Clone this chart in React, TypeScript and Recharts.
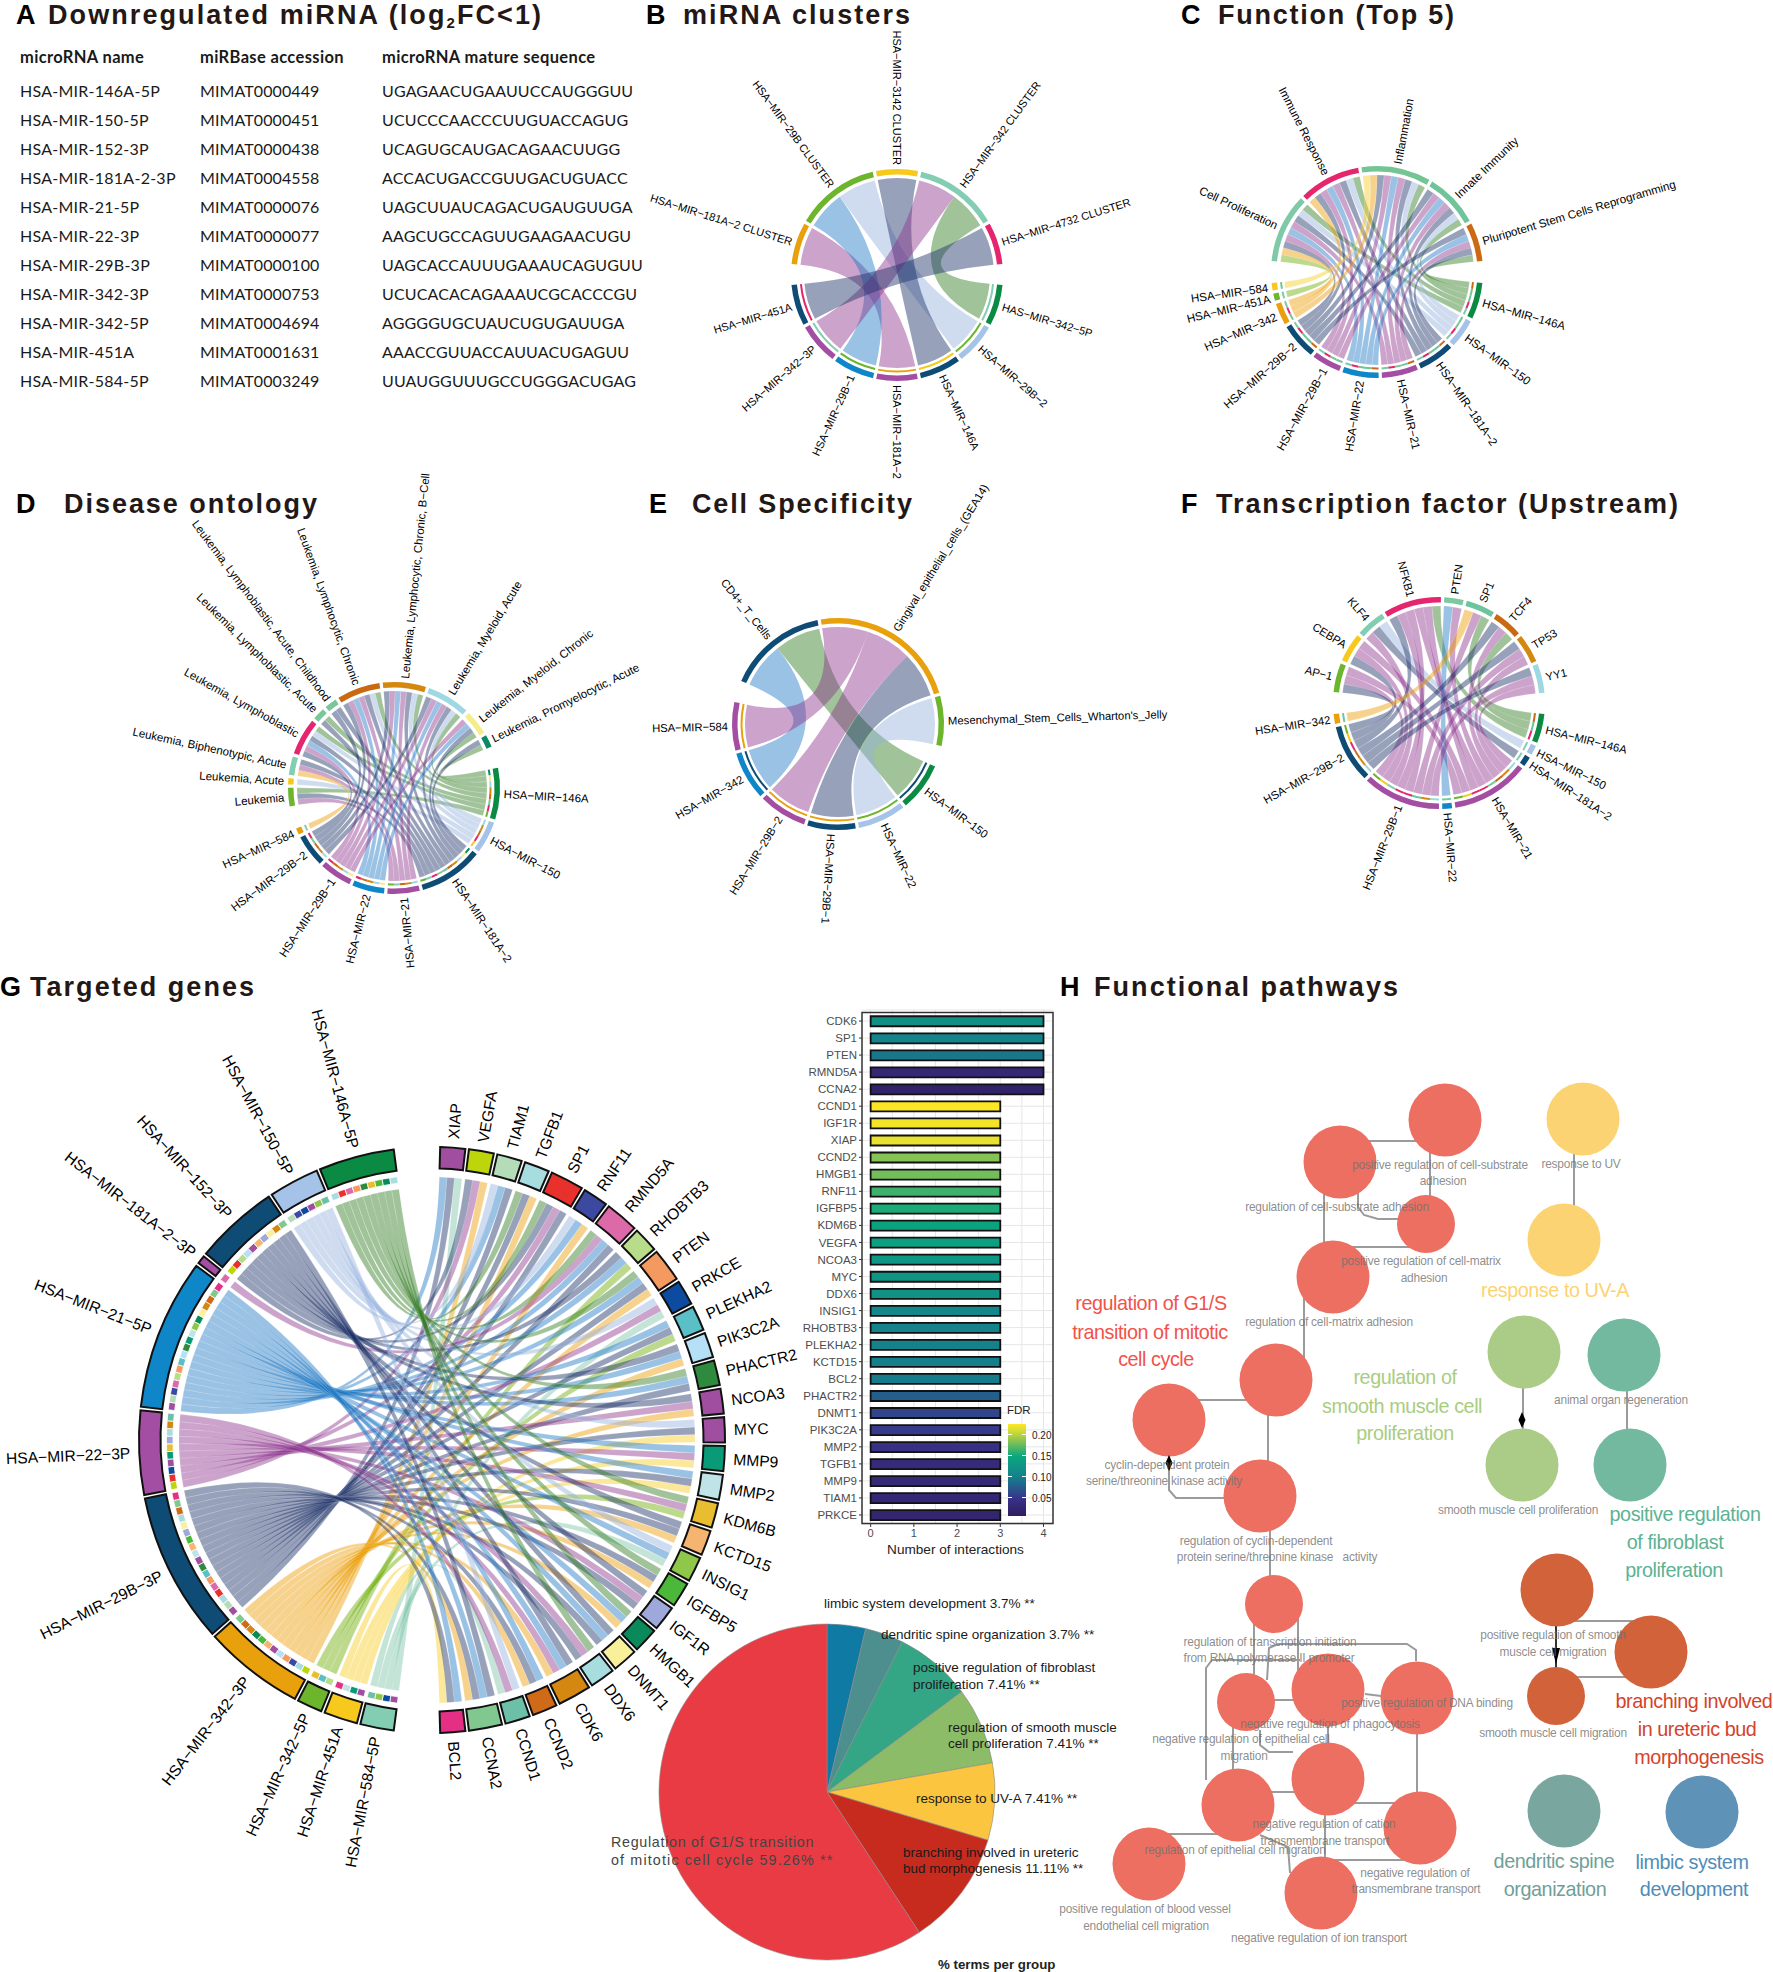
import React from "react";
import {
  Bar,
  BarChart,
  CartesianGrid,
  Cell,
  Pie,
  PieChart,
  ReferenceArea,
  Scatter,
  ScatterChart,
  XAxis,
  YAxis,
  ZAxis,
} from "recharts";

const SANS = "'Liberation Sans', Arial, sans-serif";

// ---- panel A table
const mirnaNames = ["HSA-MIR-146A-5P", "HSA-MIR-150-5P", "HSA-MIR-152-3P", "HSA-MIR-181A-2-3P", "HSA-MIR-21-5P", "HSA-MIR-22-3P", "HSA-MIR-29B-3P", "HSA-MIR-342-3P", "HSA-MIR-342-5P", "HSA-MIR-451A", "HSA-MIR-584-5P"];
const mirnaAccessions = ["MIMAT0000449", "MIMAT0000451", "MIMAT0000438", "MIMAT0004558", "MIMAT0000076", "MIMAT0000077", "MIMAT0000100", "MIMAT0000753", "MIMAT0004694", "MIMAT0001631", "MIMAT0003249"];
const mirnaSequences = ["UGAGAACUGAAUUCCAUGGGUU", "UCUCCCAACCCUUGUACCAGUG", "UCAGUGCAUGACAGAACUUGG", "ACCACUGACCGUUGACUGUACC", "UAGCUUAUCAGACUGAUGUUGA", "AAGCUGCCAGUUGAAGAACUGU", "UAGCACCAUUUGAAAUCAGUGUU", "UCUCACACAGAAAUCGCACCCGU", "AGGGGUGCUAUCUGUGAUUGA", "AAACCGUUACCAUUACUGAGUU", "UUAUGGUUUGCCUGGGACUGAG"];

// ---- ring colours
const GREEN = "#0a8a43";
const PALE = "#a5c3e8";
const NAVY = "#0f4c75";
const PURPLE = "#a34ea2";
const BLUE = "#0e86c8";
const ORANGE = "#e8a00c";
const YELLOW = "#f7c91c";
const LIME = "#6cb52d";
const MINT = "#83cdb2";
const PINK = "#e5266f";
// ribbons are these at 45% over white
const ribbonBases: Record<string, string> = {
  [GREEN]: "#2f7a1e",
  [PALE]: "#95b2de",
  [NAVY]: "#1b2f66",
  [PURPLE]: "#8c338c",
  [BLUE]: "#1f78c4",
  [ORANGE]: "#eb9b00",
  [YELLOW]: "#f9cc1f",
  [LIME]: "#6bab00",
  [MINT]: "#7cc4a9",
};

// ---- panel B
const bRows = ["HAS-MIR-342-5P", "HSA-MIR-29B-2", "HSA-MIR-146A", "HSA-MIR-181A-2", "HSA-MIR-29B-1", "HSA-MIR-342-3P", "HSA-MIR-451A"];
const bCols = ["HSA-MIR-181A-2 CLUSTER", "HSA-MIR-29B CLUSTER", "HSA-MIR-3142 CLUSTER", "HSA-MIR-342 CLUSTER", "HSA-MIR-4732 CLUSTER"];
const bLinks = [[3], [1], [2], [0], [1], [3], [4]];
const bRowColors = [GREEN, PALE, NAVY, PURPLE, BLUE, PURPLE, NAVY];
const bColColors = [ORANGE, LIME, YELLOW, MINT, PINK];

// ---- panel C
const cRows = ["HSA-MIR-146A", "HSA-MIR-150", "HSA-MIR-181A-2", "HSA-MIR-21", "HSA-MIR-22", "HSA-MIR-29B-1", "HSA-MIR-29B-2", "HSA-MIR-342", "HSA-MIR-451A", "HSA-MIR-584"];
const cCols = ["Cell Proliferation", "Immune Response", "Inflammation", "Innate Immunity", "Pluripotent Stem Cells Reprogramming"];
const cLinks = [[0, 1, 2, 3, 4], [0, 1, 2, 3], [0, 1, 2, 3, 4], [0, 1, 2, 3, 4], [0, 1, 2, 3, 4], [0, 1, 2, 3], [0, 1, 2, 3, 4], [0, 1, 2], [0], [2]];
const cRowColors = [GREEN, PALE, NAVY, PURPLE, BLUE, PURPLE, NAVY, ORANGE, LIME, YELLOW];
const cColColors = ["#7fc9a8", PINK, "#73c594", "#6fc49a", "#cc6a14"];

// ---- panel D
const dRows = ["HSA-MIR-146A", "HSA-MIR-150", "HSA-MIR-181A-2", "HSA-MIR-21", "HSA-MIR-22", "HSA-MIR-29B-1", "HSA-MIR-29B-2", "HSA-MIR-584"];
const dCols = ["Leukemia", "Leukemia, Acute", "Leukemia, Biphenotypic, Acute", "Leukemia, Lymphoblastic", "Leukemia, Lymphoblastic, Acute", "Leukemia, Lymphoblastic, Acute, Childhood", "Leukemia, Lymphocytic, Chronic", "Leukemia, Lymphocytic, Chronic, B-Cell", "Leukemia, Myeloid, Acute", "Leukemia, Myeloid, Chronic", "Leukemia, Promyelocytic, Acute"];
const dLinks = [[0, 3, 4, 6, 7, 8, 9, 10], [1, 3, 6, 7, 8], [0, 2, 3, 4, 5, 6, 7, 8, 9, 10], [0, 2, 6, 7, 8], [3, 6, 7, 8, 9], [3, 6, 7, 8, 9], [3, 5, 6, 7, 8], [2]];
const dRowColors = [GREEN, PALE, NAVY, PURPLE, BLUE, PURPLE, NAVY, ORANGE];
const dColColors = [LIME, YELLOW, MINT, PINK, "#7ac79a", "#7ac79a", "#c96a12", "#d4880f", "#9ed8e2", "#f5ec8a", "#0a8a60"];

// ---- panel E
const eRows = ["HSA-MIR-150", "HSA-MIR-22", "HSA-MIR-29B-1", "HSA-MIR-29B-2", "HSA-MIR-342", "HSA-MIR-584"];
const eCols = ["CD4+_T_Cells", "Gingival_epithelial_cells_(GEA14)", "Mesenchymal_Stem_Cells_Wharton's_Jelly"];
const eLinks = [[0], [2], [1], [1], [0], [1]];
const eRowColors = [GREEN, PALE, NAVY, PURPLE, BLUE, PURPLE];
const eColColors = ["#0f4c75", ORANGE, LIME];

// ---- panel F
const fRows = ["HSA-MIR-146A", "HSA-MIR-150", "HSA-MIR-181A-2", "HSA-MIR-21", "HSA-MIR-22", "HSA-MIR-29B-1", "HSA-MIR-29B-2", "HSA-MIR-342"];
const fCols = ["AP-1", "CEBPA", "KLF4", "NFKB1", "PTEN", "SP1", "TCF4", "TP53", "YY1"];
const fLinks = [[3, 5, 6], [2], [2], [0, 1, 3, 3, 4, 6, 7, 8], [4], [0, 1, 2, 3, 3, 5, 7, 8], [0, 1, 3, 6, 7, 8], [5]];
const fRowColors = [GREEN, PALE, NAVY, PURPLE, BLUE, PURPLE, NAVY, ORANGE];
const fColColors = [LIME, YELLOW, MINT, PINK, "#7cc8a0", "#6fc4a0", "#c96a12", "#d4880f", "#9ed8e2"];

// ---- panel G chord
const gRows = ["HSA-MIR-584-5P", "HSA-MIR-451A", "HSA-MIR-342-5P", "HSA-MIR-342-3P", "HSA-MIR-29B-3P", "HSA-MIR-22-3P", "HSA-MIR-21-5P", "HSA-MIR-181A-2-3P", "HSA-MIR-152-3P", "HSA-MIR-150-5P", "HSA-MIR-146A-5P"];
const gCols = ["XIAP", "VEGFA", "TIAM1", "TGFB1", "SP1", "RNF11", "RMND5A", "RHOBTB3", "PTEN", "PRKCE", "PLEKHA2", "PIK3C2A", "PHACTR2", "NCOA3", "MYC", "MMP9", "MMP2", "KDM6B", "KCTD15", "INSIG1", "IGFBP5", "IGF1R", "HMGB1", "DNMT1", "DDX6", "CDK6", "CCND2", "CCND1", "CCNA2", "BCL2"];
const gLinks = [
  [0, 9, 19, 27],
  [29, 16, 15, 14],
  [7, 10, 17],
  [1, 5, 11, 13, 18, 20, 22, 25, 26, 28, 8, 3],
  [0, 2, 3, 4, 6, 8, 10, 12, 14, 16, 18, 20, 21, 23, 24, 26, 28, 29],
  [1, 4, 9, 13, 15, 17, 21, 24, 25, 27],
  [0, 2, 5, 6, 7, 8, 10, 11, 12, 15, 16, 19, 22, 23, 25, 26, 28, 29],
  [6],
  [1, 4, 7, 11, 13, 18, 21, 23, 25, 28],
  [2, 5, 9, 14, 19, 27],
  [3, 4, 6, 8, 12, 17, 20, 22, 24],
];
const gRowColors = [MINT, YELLOW, LIME, ORANGE, NAVY, PURPLE, BLUE, PURPLE, NAVY, PALE, GREEN];
const gColColors = ["#a04fa0", "#bcd60b", "#b5dcb8", "#a8dde0", "#e8302c", "#3b4aa0", "#dd6aa8", "#b8dc8a", "#f49a60", "#0c4ba0", "#5bbfc8", "#b5e0f5", "#2e8b3e", "#a04fa0", "#a04fa0", "#099a78", "#c0e3e8", "#e8bd30", "#f5b570", "#8fc74a", "#4cb83a", "#9fa8da", "#0a8a5a", "#f9f09a", "#a8dde0", "#d48812", "#cf6a18", "#6cc0a8", "#80c890", "#e52f85"];

// ---- panel G bars
const barGenes = ["CDK6", "SP1", "PTEN", "RMND5A", "CCNA2", "CCND1", "IGF1R", "XIAP", "CCND2", "HMGB1", "RNF11", "IGFBP5", "KDM6B", "VEGFA", "NCOA3", "MYC", "DDX6", "INSIG1", "RHOBTB3", "PLEKHA2", "KCTD15", "BCL2", "PHACTR2", "DNMT1", "PIK3C2A", "MMP2", "TGFB1", "MMP9", "TIAM1", "PRKCE"];
const barCounts = [4, 4, 4, 4, 4, 3, 3, 3, 3, 3, 3, 3, 3, 3, 3, 3, 3, 3, 3, 3, 3, 3, 3, 3, 3, 3, 3, 3, 3, 3];
const barFdr = [0.12, 0.105, 0.095, 0.03, 0.02, 0.226, 0.222, 0.218, 0.185, 0.18, 0.165, 0.155, 0.145, 0.14, 0.13, 0.128, 0.125, 0.11, 0.105, 0.103, 0.1, 0.098, 0.078, 0.062, 0.055, 0.045, 0.035, 0.033, 0.03, 0.025];
const fdrStops: Array<[number, number[]]> = [
  [0, [47, 29, 94]],
  [0.19, [56, 51, 138]],
  [0.42, [21, 127, 140]],
  [0.65, [10, 167, 126]],
  [0.8, [124, 192, 87]],
  [0.9, [196, 215, 58]],
  [1, [253, 231, 37]],
];

// ---- pathways pie
const pathwayNames = ["limbic system development", "dendritic spine organization", "positive regulation of fibroblast proliferation", "regulation of smooth muscle cell proliferation", "response to UV-A", "branching involved in ureteric bud morphogenesis", "Regulation of G1/S transition of mitotic cell cycle"];
const pathwayShares = [3.7, 3.7, 7.41, 7.41, 7.41, 11.11, 59.26];
const pathwayColors = ["#0f7aa3", "#4d8f8f", "#34a585", "#8cbc68", "#fbc53f", "#c72b1e", "#e93b43"];

// ---- panel H network
const g1sNodes = [
  { x: 1445, y: 1120, z: 2 }, { x: 1340, y: 1162, z: 2 }, { x: 1426, y: 1224, z: 1 }, { x: 1333, y: 1277, z: 2 },
  { x: 1276, y: 1380, z: 2 }, { x: 1169, y: 1420, z: 2 }, { x: 1260, y: 1496, z: 2 }, { x: 1274, y: 1604, z: 1 },
  { x: 1246, y: 1702, z: 1 }, { x: 1328, y: 1690, z: 2 }, { x: 1417, y: 1698, z: 2 }, { x: 1328, y: 1779, z: 2 },
  { x: 1238, y: 1805, z: 2 }, { x: 1420, y: 1828, z: 2 }, { x: 1149, y: 1864, z: 2 }, { x: 1321, y: 1893, z: 2 },
];
const uvNodes = [{ x: 1583, y: 1119, z: 2 }, { x: 1564, y: 1240, z: 2 }];
const smoothNodes = [{ x: 1524, y: 1352, z: 2 }, { x: 1522, y: 1465, z: 2 }];
const fibroNodes = [{ x: 1624, y: 1355, z: 2 }, { x: 1630, y: 1465, z: 2 }];
const ureterNodes = [{ x: 1557, y: 1590, z: 2 }, { x: 1651, y: 1652, z: 2 }, { x: 1556, y: 1696, z: 1 }];
const dendriticNodes = [{ x: 1564, y: 1811, z: 2 }];
const limbicNodes = [{ x: 1702, y: 1812, z: 2 }];
const networkSeries = [
  { nodes: g1sNodes, color: "#ec6f61" },
  { nodes: uvNodes, color: "#fcd372" },
  { nodes: smoothNodes, color: "#abcc87" },
  { nodes: fibroNodes, color: "#73b9a0" },
  { nodes: ureterNodes, color: "#d26239" },
  { nodes: dendriticNodes, color: "#7aa6a0" },
  { nodes: limbicNodes, color: "#5e92b7" },
];
const networkEdges = [
  [[1340, 1141], [1445, 1141]],
  [[1324, 1162], [1324, 1276]],
  [[1430, 1120], [1430, 1224]],
  [[1358, 1193], [1358, 1207], [1364, 1215], [1378, 1219], [1399, 1219]],
  [[1333, 1247], [1426, 1247]],
  [[1304, 1277], [1304, 1380]],
  [[1169, 1400], [1276, 1400]],
  [[1268, 1380], [1268, 1496]],
  [[1169, 1456], [1169, 1490], [1176, 1498], [1224, 1498]],
  [[1574, 1119], [1574, 1240]],
  [[1523, 1352], [1523, 1465]],
  [[1627, 1355], [1627, 1465]],
  [[1270, 1496], [1270, 1604]],
  [[1254, 1604], [1254, 1702]],
  [[1298, 1604], [1298, 1690]],
  [[1206, 1780], [1206, 1668], [1212, 1660], [1300, 1660]],
  [[1416, 1661], [1416, 1650], [1407, 1644], [1278, 1644], [1269, 1648], [1267, 1680]],
  [[1246, 1700], [1328, 1700]],
  [[1365, 1694], [1381, 1696]],
  [[1260, 1730], [1260, 1745], [1269, 1752], [1293, 1752]],
  [[1328, 1690], [1328, 1779]],
  [[1233, 1702], [1233, 1805]],
  [[1238, 1792], [1328, 1792]],
  [[1328, 1803], [1420, 1803]],
  [[1417, 1698], [1417, 1828]],
  [[1149, 1834], [1238, 1834]],
  [[1260, 1835], [1288, 1847], [1290, 1873]],
  [[1325, 1779], [1325, 1893]],
  [[1321, 1860], [1420, 1860]],
  [[1557, 1621], [1651, 1621]],
  [[1556, 1677], [1651, 1677]],
];
const arrowEdge = [[1556, 1590], [1556, 1696]];
const diamondMarks = [{ x: 1169, y: 1463 }, { x: 1522, y: 1420 }];
const arrowMarks = [{ x: 1556, y: 1656 }];
const nodeLabels = [
  { text: "positive regulation of cell-substrate", x: 1440, y: 1165 }, { text: "adhesion", x: 1443, y: 1181 },
  { text: "response to UV", x: 1581, y: 1164 },
  { text: "regulation of cell-substrate adhesion", x: 1337, y: 1207 },
  { text: "positive regulation of cell-matrix", x: 1421, y: 1261 }, { text: "adhesion", x: 1424, y: 1278 },
  { text: "regulation of cell-matrix adhesion", x: 1329, y: 1322 },
  { text: "animal organ regeneration", x: 1621, y: 1400 },
  { text: "cyclin-dependent protein", x: 1167, y: 1465 }, { text: "serine/threonine kinase activity", x: 1164, y: 1481 },
  { text: "smooth muscle cell proliferation", x: 1518, y: 1510 },
  { text: "regulation of cyclin-dependent", x: 1256, y: 1541 }, { text: "protein serine/threonine kinase   activity", x: 1277, y: 1557 },
  { text: "regulation of transcription initiation", x: 1270, y: 1642 }, { text: "from RNA polymerase II promoter", x: 1269, y: 1658 },
  { text: "positive regulation of DNA binding", x: 1427, y: 1703 },
  { text: "negative regulation of phagocytosis", x: 1330, y: 1724 },
  { text: "negative regulation of epithelial cell", x: 1241, y: 1739 }, { text: "migration", x: 1244, y: 1756 },
  { text: "negative regulation of cation", x: 1324, y: 1824 }, { text: "transmembrane transport", x: 1325, y: 1841 },
  { text: "regulation of epithelial cell migration", x: 1235, y: 1850 },
  { text: "negative regulation of", x: 1415, y: 1873 }, { text: "transmembrane transport", x: 1416, y: 1889 },
  { text: "positive regulation of blood vessel", x: 1145, y: 1909 }, { text: "endothelial cell migration", x: 1146, y: 1926 },
  { text: "negative regulation of ion transport", x: 1319, y: 1938 },
  { text: "positive regulation of smooth", x: 1553, y: 1635 }, { text: "muscle cell migration", x: 1553, y: 1652 },
  { text: "smooth muscle cell migration", x: 1553, y: 1733 },
];
const clusterLabels = [
  { text: "regulation of G1/S", x: 1151, y: 1303, color: "#f2524a" }, { text: "transition of mitotic", x: 1150, y: 1332, color: "#f2524a" }, { text: "cell cycle", x: 1156, y: 1359, color: "#f2524a" },
  { text: "response to UV-A", x: 1555, y: 1290, color: "#fcd372" },
  { text: "regulation of", x: 1405, y: 1377, color: "#a9cd7e" }, { text: "smooth muscle cell", x: 1402, y: 1406, color: "#a9cd7e" }, { text: "proliferation", x: 1405, y: 1433, color: "#a9cd7e" },
  { text: "positive regulation", x: 1685, y: 1514, color: "#5cb394" }, { text: "of fibroblast", x: 1675, y: 1542, color: "#5cb394" }, { text: "proliferation", x: 1674, y: 1570, color: "#5cb394" },
  { text: "branching involved", x: 1694, y: 1701, color: "#d5432a" }, { text: "in ureteric bud", x: 1697, y: 1729, color: "#d5432a" }, { text: "morphogenesis", x: 1699, y: 1757, color: "#d5432a" },
  { text: "dendritic spine", x: 1554, y: 1861, color: "#6f9f9a" }, { text: "organization", x: 1555, y: 1889, color: "#6f9f9a" },
  { text: "limbic system", x: 1692, y: 1862, color: "#4f8db9" }, { text: "development", x: 1694, y: 1889, color: "#4f8db9" },
];

const panelTitles = [
  { letter: "A", lx: 16, y: 15, text: "Downregulated miRNA (log", sub: "2", tail: "FC<1)", x: 48, w: 493 },
  { letter: "B", lx: 646, y: 15, text: "miRNA clusters", x: 683, w: 227 },
  { letter: "C", lx: 1181, y: 15, text: "Function (Top 5)", x: 1218, w: 236 },
  { letter: "D", lx: 16, y: 504, text: "Disease ontology", x: 64, w: 253 },
  { letter: "E", lx: 649, y: 504, text: "Cell Specificity", x: 692, w: 220 },
  { letter: "F", lx: 1181, y: 504, text: "Transcription factor (Upstream)", x: 1216, w: 462 },
  { letter: "G", lx: 0, y: 987, text: "Targeted genes", x: 30, w: 224 },
  { letter: "H", lx: 1060, y: 987, text: "Functional pathways", x: 1094, w: 304 },
];

const pieLabelLines = [
  { text: "limbic system development 3.7% **", x: 824, y: 1603 },
  { text: "dendritic spine organization 3.7% **", x: 881, y: 1634 },
  { text: "positive regulation of fibroblast", x: 913, y: 1667 },
  { text: "proliferation 7.41% **", x: 913, y: 1684 },
  { text: "regulation of smooth muscle", x: 948, y: 1727 },
  { text: "cell proliferation 7.41% **", x: 948, y: 1743 },
  { text: "response to UV-A 7.41% **", x: 916, y: 1798 },
  { text: "branching involved in ureteric", x: 903, y: 1852 },
  { text: "bud morphogenesis 11.11% **", x: 903, y: 1868 },
];

type ChordSpec = {
  id: string;
  cx: number;
  cy: number;
  rows: string[];
  cols: string[];
  links: number[][];
  rowColors: string[];
  colColors: string[];
  rowSpan: [number, number];
  colSpan: [number, number];
  pad: number;
  ring: [number, number];
  track: [number, number];
  rowRibbon: number;
  colRibbon: number;
  fontSize: number;
  labelGap: number;
  flip?: string[];
  ringStroke?: string;
  seam?: number;
  crossRows?: boolean;
};

const toRad = (d: number) => (d * Math.PI) / 180;

// same sharing out as Pie does with startAngle, endAngle and paddingAngle
function sectorAngles(counts: number[], span: [number, number], pad: number) {
  const total = counts.reduce((a, b) => a + b, 0);
  const sign = span[1] > span[0] ? 1 : -1;
  const real = Math.abs(span[1] - span[0]) - (counts.length - 1) * pad;
  let a = span[0];
  return counts.map((c) => {
    const start = a;
    const end = a + (sign * real * c) / total;
    a = end + sign * pad;
    return { start, end };
  });
}

function layoutChord(spec: ChordSpec) {
  const rowCounts = spec.links.map((l) => l.length);
  const colCounts = spec.cols.map((_, c) => spec.links.flat().filter((v) => v === c).length);
  const rowSectors = sectorAngles(rowCounts, spec.rowSpan, spec.pad);
  const colSectors = sectorAngles(colCounts, spec.colSpan, spec.pad);

  // G's fans cross over on their way in, the smaller diagrams spread apart
  const rowEnds = spec.links.map((l) => [...l].sort((a, b) => (spec.crossRows ? a - b : b - a)));
  const colEnds = spec.cols.map((_, c) => {
    const ends: number[] = [];
    for (let r = spec.links.length - 1; r >= 0; r--) {
      spec.links[r].forEach((v) => {
        if (v === c) ends.push(r);
      });
    }
    return ends;
  });

  const colUsed = colEnds.map((e) => e.map(() => false));
  const ribbons: Array<{ a1: number; a2: number; b1: number; b2: number; color: string }> = [];
  rowEnds.forEach((ends, r) => {
    const rs = rowSectors[r];
    const rStep = (rs.end - rs.start) / ends.length;
    ends.forEach((c, k) => {
      const slot = colEnds[c].findIndex((v, i) => v === r && !colUsed[c][i]);
      colUsed[c][slot] = true;
      const cs = colSectors[c];
      const cStep = (cs.end - cs.start) / colEnds[c].length;
      ribbons.push({
        a1: rs.start + k * rStep,
        a2: rs.start + (k + 1) * rStep,
        b1: cs.start + slot * cStep,
        b2: cs.start + (slot + 1) * cStep,
        color: ribbonBases[spec.rowColors[r]] ?? "#999999",
      });
    });
  });
  return { rowCounts, colCounts, rowSectors, colSectors, rowEnds, ribbons };
}

function ribbonPath(cx: number, cy: number, ra: number, rb: number, a1: number, a2: number, b1: number, b2: number) {
  const pt = (r: number, a: number) => `${cx + r * Math.cos(toRad(a))} ${cy - r * Math.sin(toRad(a))}`;
  return (
    `M${pt(ra, a1)}A${ra} ${ra} 0 0 1 ${pt(ra, a2)}` +
    `Q${cx} ${cy} ${pt(rb, b1)}` +
    `A${rb} ${rb} 0 0 1 ${pt(rb, b2)}` +
    `Q${cx} ${cy} ${pt(ra, a1)}Z`
  );
}

const makeRadialLabel = (fontSize: number, gap: number, flip: string[] = []) => (props: any) => {
  const { cx, cy, midAngle, outerRadius, name } = props;
  const r = outerRadius + gap;
  const x = cx + r * Math.cos(toRad(midAngle));
  const y = cy - r * Math.sin(toRad(midAngle));
  let rightSide = Math.cos(toRad(midAngle)) >= -1e-6;
  if (flip.includes(name)) rightSide = !rightSide;
  const rotate = rightSide ? -midAngle : 180 - midAngle;
  return (
    <text
      x={x}
      y={y}
      transform={`rotate(${rotate} ${x} ${y})`}
      textAnchor={rightSide ? "start" : "end"}
      dominantBaseline="central"
      fontFamily={SANS}
      fontSize={fontSize}
      fill="#000"
    >
      {String(name).replace(/-/g, "\u2212")}
    </text>
  );
};

function chordMarks(spec: ChordSpec) {
  const l = layoutChord(spec);
  const label = makeRadialLabel(spec.fontSize, spec.labelGap, spec.flip);
  const rowData = spec.rows.map((name, i) => ({ name, value: l.rowCounts[i], fill: spec.rowColors[i] }));
  const colData = spec.cols.map((name, i) => ({ name, value: l.colCounts[i], fill: spec.colColors[i] }));
  const ringProps = {
    dataKey: "value",
    cx: spec.cx,
    cy: spec.cy,
    innerRadius: spec.ring[0],
    outerRadius: spec.ring[1],
    paddingAngle: spec.pad,
    stroke: spec.ringStroke ?? "none",
    strokeWidth: spec.ringStroke ? 2 : 0,
    labelLine: false,
    isAnimationActive: false,
    rootTabIndex: -1,
  };
  return (
    <React.Fragment key={spec.id}>
      <g>
        {l.ribbons.map((rb, i) => (
          <path
            key={i}
            d={ribbonPath(spec.cx, spec.cy, spec.rowRibbon, spec.colRibbon, rb.a1, rb.a2, rb.b1, rb.b2)}
            fill={rb.color}
            fillOpacity={0.45}
            stroke={spec.seam ? "#ffffff" : "none"}
            strokeOpacity={0.5}
            strokeWidth={spec.seam ?? 0}
          />
        ))}
      </g>
      <Pie {...ringProps} data={rowData} startAngle={spec.rowSpan[0]} endAngle={spec.rowSpan[1]} label={label} />
      <Pie {...ringProps} data={colData} startAngle={spec.colSpan[0]} endAngle={spec.colSpan[1]} label={label} />
      {l.rowEnds.map((ends, r) => (
        <Pie
          key={r}
          data={ends.map((c) => ({ value: 1, fill: spec.colColors[c] }))}
          dataKey="value"
          cx={spec.cx}
          cy={spec.cy}
          innerRadius={spec.track[0]}
          outerRadius={spec.track[1]}
          startAngle={l.rowSectors[r].start}
          endAngle={l.rowSectors[r].end}
          stroke={spec.ringStroke ? "#ffffff" : "none"}
          strokeWidth={spec.ringStroke ? 0.8 : 0}
          isAnimationActive={false}
          rootTabIndex={-1}
        />
      ))}
    </React.Fragment>
  );
}

const smallChord = {
  pad: 1.8,
  ring: [100.5, 106] as [number, number],
  track: [95.5, 97.5] as [number, number],
  rowRibbon: 93,
  colRibbon: 97,
  labelGap: 4,
};

const chordSpecs: ChordSpec[] = [
  { ...smallChord, id: "B", cx: 897, cy: 275, fontSize: 11, rows: bRows, cols: bCols, links: bLinks, rowColors: bRowColors, colColors: bColColors, rowSpan: [-5.4, -174.6], colSpan: [174, 6], flip: ["HSA-MIR-3142 CLUSTER"] },
  { ...smallChord, id: "C", cx: 1377, cy: 272, fontSize: 11.6, rows: cRows, cols: cCols, links: cLinks, rowColors: cRowColors, colColors: cColColors, rowSpan: [-6, -174], colSpan: [174, 6], seam: 0.3 },
  { ...smallChord, id: "D", cx: 394, cy: 788, fontSize: 11.5, rows: dRows, cols: dCols, links: dLinks, rowColors: dRowColors, colColors: dColColors, rowSpan: [11, -157.5], colSpan: [190, 23], flip: ["HSA-MIR-21"], seam: 0.3 },
  { ...smallChord, id: "E", cx: 838, cy: 724, fontSize: 11.3, rows: eRows, cols: eCols, links: eLinks, rowColors: eRowColors, colColors: eColColors, rowSpan: [-23.6, -192], colSpan: [156, -12], flip: ["HSA-MIR-29B-1"] },
  { ...smallChord, id: "F", cx: 1439, cy: 703, fontSize: 11.3, rows: fRows, cols: fCols, links: fLinks, rowColors: fRowColors, colColors: fColColors, rowSpan: [-6, -174], colSpan: [174, 5.6], seam: 0.3 },
  {
    id: "G", cx: 432, cy: 1440, rows: gRows, cols: gCols, links: gLinks, rowColors: gRowColors, colColors: gColColors,
    rowSpan: [-97.5, -262.5], colSpan: [88.4, -88.4], pad: 0.7, ring: [271.5, 293], track: [259, 265.5], rowRibbon: 253, colRibbon: 263,
    fontSize: 15.6, labelGap: 9, ringStroke: "#111111", seam: 0.3, crossRows: true,
  },
];

function fdrColor(v: number) {
  const t = Math.min(1, Math.max(0, (v - 0.0087) * 4.6));
  for (let i = 1; i < fdrStops.length; i++) {
    if (t <= fdrStops[i][0]) {
      const [t0, c0] = fdrStops[i - 1];
      const [t1, c1] = fdrStops[i];
      const k = (t - t0) / (t1 - t0);
      return `rgb(${c0.map((c, j) => Math.round(c + (c1[j] - c) * k)).join(",")})`;
    }
  }
  return "rgb(253,231,37)";
}

const barData = barGenes.map((gene, i) => ({ gene, count: barCounts[i], fdr: barFdr[i] }));
const pathwayData = pathwayNames.map((name, i) => ({ name, value: pathwayShares[i], fill: pathwayColors[i] }));

const NoMark = () => <g />;
const NodeText = ({ cx, cy, payload }: any) => (
  <text x={cx} y={cy} textAnchor="middle" dominantBaseline="central" fontFamily={SANS} fontSize={11.9} letterSpacing={-0.2} fill="#6f6f6f" fillOpacity={0.8} style={{ whiteSpace: "pre" }}>
    {payload.text}
  </text>
);
const ClusterText = ({ cx, cy, payload }: any) => (
  <text x={cx} y={cy} textAnchor="middle" dominantBaseline="central" fontFamily={SANS} fontSize={19.8} letterSpacing={-0.45} fill={payload.color}>
    {payload.text}
  </text>
);
const DiamondMark = ({ cx, cy }: any) => <path d={`M${cx} ${cy - 8}L${cx + 3.5} ${cy}L${cx} ${cy + 8}L${cx - 3.5} ${cy}Z`} fill="#000" />;
const ArrowMark = ({ cx, cy }: any) => <path d={`M${cx - 4} ${cy - 8}L${cx + 4} ${cy - 8}L${cx} ${cy + 8}Z`} fill="#000" />;

const abs = (x: number, y: number): React.CSSProperties => ({ position: "absolute", left: x, top: y });

function MirnaTable() {
  const cell = (x: number, y: number, text: string, size: number, bold: boolean, spacing: number) => (
    <div key={`${x}-${y}`} style={{ ...abs(x, y), transform: "translateY(-50%)", whiteSpace: "nowrap", fontFamily: "Lato, sans-serif", fontSize: size, fontWeight: bold ? 700 : 400, letterSpacing: spacing, color: "#1a1a1a" }}>
      {text}
    </div>
  );
  return (
    <>
      {cell(20, 57, "microRNA name", 16.5, true, 0.35)}
      {cell(200, 57, "miRBase accession", 16.5, true, 0.35)}
      {cell(382, 57, "microRNA mature sequence", 16.5, true, 0.35)}
      {mirnaNames.map((n, i) => cell(20, 89.5 + i * 29, n, 16, false, 0.25))}
      {mirnaAccessions.map((n, i) => cell(200, 89.5 + i * 29, n, 16, false, 0.1))}
      {mirnaSequences.map((n, i) => cell(382, 89.5 + i * 29, n, 16, false, 0.15))}
    </>
  );
}

function Titles() {
  return (
    <svg width={1773} height={1972} style={abs(0, 0)}>
      {panelTitles.map((t) => (
        <g key={t.letter} fontFamily={SANS} fontWeight={700} fill="#231815">
          <text x={t.lx} y={t.y} dominantBaseline="central" fontSize={27} fill="#000">{t.letter}</text>
          <text x={t.x} y={t.y} dominantBaseline="central" fontSize={27} textLength={t.w} lengthAdjust="spacing">
            {t.text}
            {t.sub ? <tspan fontSize={15} dy={7}>{t.sub}</tspan> : null}
            {t.tail ? <tspan dy={-7}>{t.tail}</tspan> : null}
          </text>
        </g>
      ))}
    </svg>
  );
}

function FdrLegend() {
  const gradient = fdrStops.map(([t, c]) => `rgb(${c.join(",")}) ${t * 100}%`).join(",");
  return (
    <>
      <div style={{ ...abs(1007, 1404), fontFamily: SANS, fontSize: 11.5, color: "#222" }}>FDR</div>
      <div style={{ ...abs(1008, 1424), width: 18, height: 92, background: `linear-gradient(to top, ${gradient})` }} />
      {[["0.20", 1434.5], ["0.15", 1455.6], ["0.10", 1476.7], ["0.05", 1497.8]].map(([t, y]) => (
        <React.Fragment key={t as string}>
          <div style={{ ...abs(1008, (y as number) - 0.5), width: 4, height: 1, background: "#fff" }} />
          <div style={{ ...abs(1022, (y as number) - 0.5), width: 4, height: 1, background: "#fff" }} />
          <div style={{ ...abs(1032, y as number), transform: "translateY(-50%)", fontFamily: SANS, fontSize: 10, color: "#222" }}>{t}</div>
        </React.Fragment>
      ))}
    </>
  );
}

export default function App() {
  return (
    <div style={{ ...abs(0, 0), width: 1773, height: 1972, background: "#fff", overflow: "hidden" }}>
      <MirnaTable />
      <Titles />

      <div style={abs(0, 0)}>
        <PieChart width={1773} height={1972} margin={{ top: 0, right: 0, bottom: 0, left: 0 }}>
          {chordSpecs.map(chordMarks)}
          <Pie
            data={pathwayData}
            dataKey="value"
            cx={827}
            cy={1792}
            outerRadius={168}
            startAngle={90}
            endAngle={-270}
            stroke="#8a8a8a"
            strokeWidth={0.6}
            isAnimationActive={false}
            rootTabIndex={-1}
          />
        </PieChart>
      </div>

      {pieLabelLines.map((l) => (
        <div key={l.text} style={{ ...abs(l.x, l.y), transform: "translateY(-50%)", whiteSpace: "nowrap", fontFamily: SANS, fontSize: 13.5, color: "#1a1a1a" }}>{l.text}</div>
      ))}
      <div style={{ ...abs(611, 1842), transform: "translateY(-50%)", whiteSpace: "nowrap", fontFamily: SANS, fontSize: 14.3, letterSpacing: 0.7, color: "#444" }}>Regulation of G1/S transition</div>
      <div style={{ ...abs(611, 1860), transform: "translateY(-50%)", whiteSpace: "nowrap", fontFamily: SANS, fontSize: 14.3, letterSpacing: 1.15, color: "#444" }}>of mitotic cell cycle 59.26% **</div>
      <div style={{ ...abs(938, 1964), transform: "translateY(-50%)", whiteSpace: "nowrap", fontFamily: SANS, fontSize: 13.3, fontWeight: 700, color: "#222" }}>% terms per group</div>

      <div style={abs(770, 1000)}>
        <BarChart width={300} height={570} data={barData} layout="vertical" margin={{ top: 10, right: 17, bottom: 0, left: 0 }} barCategoryGap="22%">
          <CartesianGrid stroke="#e6e6e6" verticalValues={[0, 0.5, 1, 1.5, 2, 2.5, 3, 3.5, 4]} />
          <XAxis type="number" domain={[-0.2, 4.22]} ticks={[0, 1, 2, 3, 4]} height={46} axisLine={false} tickSize={3} tick={{ fontSize: 11, fill: "#4d4d4d", fontFamily: SANS }} stroke="#333" label={{ value: "Number of interactions", position: "insideBottom", offset: 16, dx: -2, fontSize: 13.6, fill: "#222", fontFamily: SANS }} />
          <YAxis type="category" dataKey="gene" width={92} interval={0} axisLine={false} tickSize={3} tick={{ fontSize: 11.5, fill: "#4d4d4d", fontFamily: SANS }} stroke="#333" padding={{ top: 2.5, bottom: 0.5 }} />
          <Bar dataKey="count" stroke="#111" strokeWidth={1.8} isAnimationActive={false}>
            {barData.map((d) => (
              <Cell key={d.gene} fill={fdrColor(d.fdr)} />
            ))}
          </Bar>
          <ReferenceArea x1={-0.2} x2={4.22} fill="none" stroke="#333" strokeWidth={1.5} />
        </BarChart>
      </div>
      <FdrLegend />

      <div style={abs(0, 0)}>
        <ScatterChart width={1773} height={1972} margin={{ top: 0, right: 0, bottom: 0, left: 0 }}>
          <XAxis type="number" dataKey="x" domain={[0, 1773]} hide />
          <YAxis type="number" dataKey="y" domain={[0, 1972]} reversed hide />
          <ZAxis type="number" dataKey="z" domain={[1, 2]} range={[2642, 4185]} />
          {networkEdges.map((pts, i) => (
            <Scatter key={i} data={pts.map(([x, y]) => ({ x, y }))} line={{ stroke: "#9b9b9b", strokeWidth: 2 }} shape={NoMark} isAnimationActive={false} />
          ))}
          <Scatter data={arrowEdge.map(([x, y]) => ({ x, y }))} line={{ stroke: "#333", strokeWidth: 2 }} shape={NoMark} isAnimationActive={false} />
          {networkSeries.map((s, i) => (
            <Scatter key={i} data={s.nodes} fill={s.color} shape="circle" isAnimationActive={false} />
          ))}
          <Scatter data={diamondMarks} shape={DiamondMark} isAnimationActive={false} />
          <Scatter data={arrowMarks} shape={ArrowMark} isAnimationActive={false} />
          <Scatter data={nodeLabels} shape={NodeText} isAnimationActive={false} />
          <Scatter data={clusterLabels} shape={ClusterText} isAnimationActive={false} />
        </ScatterChart>
      </div>
    </div>
  );
}
